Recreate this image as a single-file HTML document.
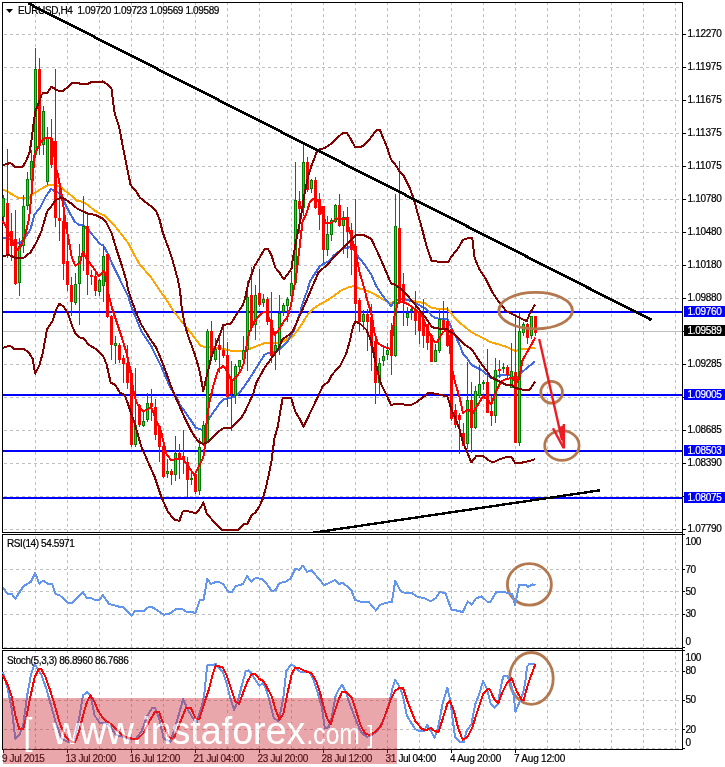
<!DOCTYPE html>
<html><head><meta charset="utf-8"><title>EURUSD,H4</title>
<style>
html,body{margin:0;padding:0;background:#fff;}
body{width:725px;height:767px;overflow:hidden;position:relative;}
svg{position:absolute;left:0;top:0;}
svg text{font-family:'Liberation Sans', Arial, sans-serif;}
</style></head><body>
<svg width="725" height="767" viewBox="0 0 725 767" shape-rendering="crispEdges">

<g stroke="#c0c0c0" stroke-width="1" stroke-dasharray="3 3" fill="none"><line x1="35.5" y1="2" x2="35.5" y2="532" /><line x1="67.5" y1="2" x2="67.5" y2="532" /><line x1="99.5" y1="2" x2="99.5" y2="532" /><line x1="131.5" y1="2" x2="131.5" y2="532" /><line x1="163.5" y1="2" x2="163.5" y2="532" /><line x1="195.5" y1="2" x2="195.5" y2="532" /><line x1="227.5" y1="2" x2="227.5" y2="532" /><line x1="259.5" y1="2" x2="259.5" y2="532" /><line x1="291.5" y1="2" x2="291.5" y2="532" /><line x1="323.5" y1="2" x2="323.5" y2="532" /><line x1="355.5" y1="2" x2="355.5" y2="532" /><line x1="387.5" y1="2" x2="387.5" y2="532" /><line x1="419.5" y1="2" x2="419.5" y2="532" /><line x1="451.5" y1="2" x2="451.5" y2="532" /><line x1="483.5" y1="2" x2="483.5" y2="532" /><line x1="515.5" y1="2" x2="515.5" y2="532" /><line x1="547.5" y1="2" x2="547.5" y2="532" /><line x1="579.5" y1="2" x2="579.5" y2="532" /><line x1="611.5" y1="2" x2="611.5" y2="532" /><line x1="643.5" y1="2" x2="643.5" y2="532" /><line x1="675.5" y1="2" x2="675.5" y2="532" /><line x1="35.5" y1="530" x2="35.5" y2="648" /><line x1="67.5" y1="530" x2="67.5" y2="648" /><line x1="99.5" y1="530" x2="99.5" y2="648" /><line x1="131.5" y1="530" x2="131.5" y2="648" /><line x1="163.5" y1="530" x2="163.5" y2="648" /><line x1="195.5" y1="530" x2="195.5" y2="648" /><line x1="227.5" y1="530" x2="227.5" y2="648" /><line x1="259.5" y1="530" x2="259.5" y2="648" /><line x1="291.5" y1="530" x2="291.5" y2="648" /><line x1="323.5" y1="530" x2="323.5" y2="648" /><line x1="355.5" y1="530" x2="355.5" y2="648" /><line x1="387.5" y1="530" x2="387.5" y2="648" /><line x1="419.5" y1="530" x2="419.5" y2="648" /><line x1="451.5" y1="530" x2="451.5" y2="648" /><line x1="483.5" y1="530" x2="483.5" y2="648" /><line x1="515.5" y1="530" x2="515.5" y2="648" /><line x1="547.5" y1="530" x2="547.5" y2="648" /><line x1="579.5" y1="530" x2="579.5" y2="648" /><line x1="611.5" y1="530" x2="611.5" y2="648" /><line x1="643.5" y1="530" x2="643.5" y2="648" /><line x1="675.5" y1="530" x2="675.5" y2="648" /><line x1="35.5" y1="650" x2="35.5" y2="749" /><line x1="67.5" y1="650" x2="67.5" y2="749" /><line x1="99.5" y1="650" x2="99.5" y2="749" /><line x1="131.5" y1="650" x2="131.5" y2="749" /><line x1="163.5" y1="650" x2="163.5" y2="749" /><line x1="195.5" y1="650" x2="195.5" y2="749" /><line x1="227.5" y1="650" x2="227.5" y2="749" /><line x1="259.5" y1="650" x2="259.5" y2="749" /><line x1="291.5" y1="650" x2="291.5" y2="749" /><line x1="323.5" y1="650" x2="323.5" y2="749" /><line x1="355.5" y1="650" x2="355.5" y2="749" /><line x1="387.5" y1="650" x2="387.5" y2="749" /><line x1="419.5" y1="650" x2="419.5" y2="749" /><line x1="451.5" y1="650" x2="451.5" y2="749" /><line x1="483.5" y1="650" x2="483.5" y2="749" /><line x1="515.5" y1="650" x2="515.5" y2="749" /><line x1="547.5" y1="650" x2="547.5" y2="749" /><line x1="579.5" y1="650" x2="579.5" y2="749" /><line x1="611.5" y1="650" x2="611.5" y2="749" /><line x1="643.5" y1="650" x2="643.5" y2="749" /><line x1="675.5" y1="650" x2="675.5" y2="749" /><line x1="4" y1="34.5" x2="682" y2="34.5" /><line x1="4" y1="67.5" x2="682" y2="67.5" /><line x1="4" y1="100.5" x2="682" y2="100.5" /><line x1="4" y1="133.5" x2="682" y2="133.5" /><line x1="4" y1="166.5" x2="682" y2="166.5" /><line x1="4" y1="199.5" x2="682" y2="199.5" /><line x1="4" y1="232.5" x2="682" y2="232.5" /><line x1="4" y1="265.5" x2="682" y2="265.5" /><line x1="4" y1="298.5" x2="682" y2="298.5" /><line x1="4" y1="331.5" x2="682" y2="331.5" /><line x1="4" y1="364.5" x2="682" y2="364.5" /><line x1="4" y1="397.5" x2="682" y2="397.5" /><line x1="4" y1="430.5" x2="682" y2="430.5" /><line x1="4" y1="463.5" x2="682" y2="463.5" /><line x1="4" y1="496.5" x2="682" y2="496.5" /><line x1="4" y1="529.5" x2="682" y2="529.5" /><line x1="4" y1="569.5" x2="682" y2="569.5" /><line x1="4" y1="591.5" x2="682" y2="591.5" /><line x1="4" y1="614.5" x2="682" y2="614.5" /><line x1="4" y1="647.5" x2="682" y2="647.5" /><line x1="4" y1="671.5" x2="682" y2="671.5" /><line x1="4" y1="700.5" x2="682" y2="700.5" /><line x1="4" y1="729.5" x2="682" y2="729.5" /><line x1="4" y1="748.5" x2="682" y2="748.5" /></g>
<g fill="none" stroke="#000" stroke-width="1">
<rect x="2.5" y="2.5" width="680" height="530" />
<rect x="2.5" y="534.5" width="680" height="114" />
<rect x="2.5" y="650.5" width="680" height="99" />
</g>
<g stroke="#0000ff" stroke-width="2">
<line x1="3" y1="311.5" x2="682" y2="311.5" />
<line x1="3" y1="394.5" x2="682" y2="394.5" />
<line x1="3" y1="450.5" x2="682" y2="450.5" />
<line x1="3" y1="497.5" x2="682" y2="497.5" />
</g>
<line x1="3" y1="331.5" x2="682" y2="331.5" stroke="#c0c0c0" stroke-width="1"/>
<g fill="none" stroke-width="2" stroke-linejoin="round" shape-rendering="crispEdges">
<polyline points="2.8,189.5 8.3,192.2 18.0,197.7 29.0,197.7 33.1,194.2 40.0,189.4 48.3,185.2 52.5,184.6 55.2,185.2 59.4,185.9 64.9,190.8 70.4,194.9 77.3,201.1 82.9,201.8 88.4,205.3 93.9,210.1 100.0,213.6 104.9,215.6 109.9,220.6 116.5,228.0 128.1,242.9 133.1,252.8 139.7,264.4 151.3,277.7 161.2,292.6 164.5,296.6 172.8,309.9 182.7,323.1 191.0,333.0 200.5,345.5 204.3,347.1 209.9,347.1 219.9,348.0 229.8,350.4 234.8,351.3 243.0,351.3 249.7,348.8 256.3,346.3 264.6,343.0 274.5,343.0 279.5,343.0 286.1,339.7 292.7,336.4 299.3,328.1 307.6,314.8 314.2,308.2 319.9,304.3 331.5,297.7 341.5,290.2 349.7,286.9 354.7,286.1 359.7,288.6 367.9,291.1 376.2,295.2 382.8,299.3 391.1,303.5 396.1,300.2 402.7,299.3 409.3,300.2 417.6,301.8 425.0,303.3 431.6,307.9 437.4,308.7 447.4,309.5 449.0,310.8 458.1,321.5 466.4,328.1 471.4,332.3 476.3,334.8 485.0,338.9 489.5,341.8 497.8,344.2 506.1,346.7 515.2,350.9 522.6,349.2 529.3,348.4 535.5,347.5" stroke="#ffa500"/>
<polyline points="2.8,238.0 11.0,239.1 15.2,242.8 20.7,242.8 24.9,238.0 30.4,229.7 34.5,214.5 40.1,207.6 45.6,196.6 51.1,189.0 55.2,191.5 59.4,193.1 63.5,200.7 69.1,211.8 74.6,221.4 78.7,224.9 82.9,224.9 88.4,229.7 93.9,236.6 100.0,244.0 103.3,245.4 108.2,254.5 113.2,266.1 118.2,276.0 123.1,286.0 128.1,295.9 131.4,307.0 134.7,314.8 141.4,331.4 151.3,346.3 161.2,366.2 169.5,386.0 177.8,399.3 179.4,404.0 187.7,415.6 196.0,428.0 202.6,430.0 204.9,427.2 208.2,419.7 211.6,414.8 215.7,409.0 219.8,403.2 224.0,399.0 231.4,397.8 234.7,396.6 239.7,392.6 248.0,381.1 256.3,367.8 264.6,354.6 269.5,352.6 272.8,352.9 279.5,349.6 287.7,341.3 294.4,329.7 299.3,314.8 304.3,298.3 307.6,290.0 310.0,281.1 319.9,266.2 328.2,261.3 334.8,254.6 343.1,248.8 349.7,247.2 353.0,248.8 358.0,256.3 364.6,264.6 371.3,274.5 376.2,286.1 382.8,296.0 391.1,306.0 394.4,301.0 399.4,299.0 404.4,299.0 411.0,301.0 417.6,304.3 425.0,308.3 428.3,310.8 431.6,315.7 434.9,317.8 439.9,319.0 447.4,319.0 449.8,324.0 453.1,331.5 456.5,338.1 459.8,345.5 463.1,353.8 468.0,359.6 471.3,364.8 481.3,369.8 491.2,378.1 499.5,375.6 507.7,374.8 511.9,375.6 515.2,381.4 521.0,373.1 527.6,367.3 535.1,361.5" stroke="#4169e1"/>
</g>
<g><rect x="3" y="195.0" width="1" height="27.0" fill="#008000"/><rect x="2" y="198.0" width="3" height="19.0" fill="#008000"/><rect x="3" y="199.0" width="1" height="17.0" fill="#32cd32"/><rect x="7" y="149.0" width="1" height="109.0" fill="#ff0000"/><rect x="6" y="203.0" width="3" height="52.0" fill="#ff0000"/><rect x="11" y="213.0" width="1" height="48.0" fill="#ff0000"/><rect x="10" y="231.0" width="3" height="15.0" fill="#ff0000"/><rect x="15" y="210.0" width="1" height="75.0" fill="#ff0000"/><rect x="14" y="239.0" width="3" height="45.0" fill="#ff0000"/><rect x="19" y="238.0" width="1" height="58.0" fill="#008000"/><rect x="18" y="246.0" width="3" height="37.0" fill="#008000"/><rect x="19" y="247.0" width="1" height="35.0" fill="#32cd32"/><rect x="23" y="195.0" width="1" height="58.0" fill="#008000"/><rect x="22" y="206.0" width="3" height="40.0" fill="#008000"/><rect x="23" y="207.0" width="1" height="38.0" fill="#32cd32"/><rect x="27" y="172.0" width="1" height="38.0" fill="#008000"/><rect x="26" y="179.0" width="3" height="27.0" fill="#008000"/><rect x="27" y="180.0" width="1" height="25.0" fill="#32cd32"/><rect x="31" y="150.0" width="1" height="37.0" fill="#008000"/><rect x="30" y="161.0" width="3" height="19.0" fill="#008000"/><rect x="31" y="162.0" width="1" height="17.0" fill="#32cd32"/><rect x="35" y="48.0" width="1" height="110.0" fill="#008000"/><rect x="34" y="69.0" width="3" height="86.0" fill="#008000"/><rect x="35" y="70.0" width="1" height="84.0" fill="#32cd32"/><rect x="39" y="58.0" width="1" height="97.0" fill="#ff0000"/><rect x="38" y="69.0" width="3" height="77.0" fill="#ff0000"/><rect x="43" y="106.0" width="1" height="49.0" fill="#008000"/><rect x="42" y="111.0" width="3" height="34.0" fill="#008000"/><rect x="43" y="112.0" width="1" height="32.0" fill="#32cd32"/><rect x="47" y="127.0" width="1" height="58.0" fill="#008000"/><rect x="46" y="137.0" width="3" height="45.0" fill="#008000"/><rect x="47" y="138.0" width="1" height="43.0" fill="#32cd32"/><rect x="51" y="119.0" width="1" height="49.0" fill="#ff0000"/><rect x="50" y="138.0" width="3" height="27.0" fill="#ff0000"/><rect x="55" y="69.0" width="1" height="158.0" fill="#ff0000"/><rect x="54" y="141.0" width="3" height="77.0" fill="#ff0000"/><rect x="59" y="181.0" width="1" height="60.0" fill="#ff0000"/><rect x="58" y="218.0" width="3" height="3.0" fill="#ff0000"/><rect x="63" y="199.0" width="1" height="81.0" fill="#ff0000"/><rect x="62" y="221.0" width="3" height="43.0" fill="#ff0000"/><rect x="67" y="222.0" width="1" height="69.0" fill="#ff0000"/><rect x="66" y="261.0" width="3" height="24.0" fill="#ff0000"/><rect x="71" y="277.0" width="1" height="39.0" fill="#ff0000"/><rect x="70" y="285.0" width="3" height="17.0" fill="#ff0000"/><rect x="75" y="273.0" width="1" height="32.0" fill="#008000"/><rect x="74" y="284.0" width="3" height="19.0" fill="#008000"/><rect x="75" y="285.0" width="1" height="17.0" fill="#32cd32"/><rect x="79" y="244.0" width="1" height="81.0" fill="#008000"/><rect x="78" y="256.0" width="3" height="28.0" fill="#008000"/><rect x="79" y="257.0" width="1" height="26.0" fill="#32cd32"/><rect x="83" y="196.0" width="1" height="75.0" fill="#008000"/><rect x="82" y="226.0" width="3" height="29.0" fill="#008000"/><rect x="83" y="227.0" width="1" height="27.0" fill="#32cd32"/><rect x="87" y="214.0" width="1" height="81.0" fill="#ff0000"/><rect x="86" y="226.0" width="3" height="49.0" fill="#ff0000"/><rect x="91" y="270.0" width="1" height="15.0" fill="#ff0000"/><rect x="90" y="275.0" width="3" height="2.0" fill="#ff0000"/><rect x="95" y="270.0" width="1" height="26.0" fill="#ff0000"/><rect x="94" y="276.0" width="3" height="15.0" fill="#ff0000"/><rect x="99" y="279.0" width="1" height="17.0" fill="#008000"/><rect x="98" y="280.0" width="3" height="12.0" fill="#008000"/><rect x="99" y="281.0" width="1" height="10.0" fill="#32cd32"/><rect x="103" y="246.0" width="1" height="56.0" fill="#008000"/><rect x="102" y="256.0" width="3" height="30.0" fill="#008000"/><rect x="103" y="257.0" width="1" height="28.0" fill="#32cd32"/><rect x="107" y="254.0" width="1" height="64.0" fill="#ff0000"/><rect x="106" y="254.0" width="3" height="63.0" fill="#ff0000"/><rect x="111" y="315.0" width="1" height="45.0" fill="#ff0000"/><rect x="110" y="316.0" width="3" height="29.0" fill="#ff0000"/><rect x="115" y="336.0" width="1" height="28.0" fill="#008000"/><rect x="114" y="343.0" width="3" height="3.0" fill="#008000"/><rect x="115" y="344.0" width="1" height="1.0" fill="#32cd32"/><rect x="119" y="343.0" width="1" height="20.0" fill="#ff0000"/><rect x="118" y="345.0" width="3" height="15.0" fill="#ff0000"/><rect x="123" y="355.0" width="1" height="28.0" fill="#ff0000"/><rect x="122" y="358.0" width="3" height="6.0" fill="#ff0000"/><rect x="127" y="345.0" width="1" height="44.0" fill="#ff0000"/><rect x="126" y="363.0" width="3" height="20.0" fill="#ff0000"/><rect x="131" y="370.0" width="1" height="77.0" fill="#ff0000"/><rect x="130" y="373.0" width="3" height="72.0" fill="#ff0000"/><rect x="135" y="368.0" width="1" height="79.0" fill="#008000"/><rect x="134" y="425.0" width="3" height="20.0" fill="#008000"/><rect x="135" y="426.0" width="1" height="18.0" fill="#32cd32"/><rect x="139" y="404.0" width="1" height="23.0" fill="#ff0000"/><rect x="138" y="405.0" width="3" height="20.0" fill="#ff0000"/><rect x="143" y="412.0" width="1" height="15.0" fill="#008000"/><rect x="142" y="421.0" width="3" height="5.0" fill="#008000"/><rect x="143" y="422.0" width="1" height="3.0" fill="#32cd32"/><rect x="147" y="393.0" width="1" height="29.0" fill="#008000"/><rect x="146" y="403.0" width="3" height="17.0" fill="#008000"/><rect x="147" y="404.0" width="1" height="15.0" fill="#32cd32"/><rect x="151" y="389.0" width="1" height="32.0" fill="#ff0000"/><rect x="150" y="403.0" width="3" height="4.0" fill="#ff0000"/><rect x="155" y="399.0" width="1" height="41.0" fill="#ff0000"/><rect x="154" y="407.0" width="3" height="28.0" fill="#ff0000"/><rect x="159" y="425.0" width="1" height="37.0" fill="#ff0000"/><rect x="158" y="426.0" width="3" height="21.0" fill="#ff0000"/><rect x="163" y="445.0" width="1" height="33.0" fill="#ff0000"/><rect x="162" y="446.0" width="3" height="31.0" fill="#ff0000"/><rect x="167" y="459.0" width="1" height="19.0" fill="#008000"/><rect x="166" y="471.0" width="3" height="3.0" fill="#008000"/><rect x="167" y="472.0" width="1" height="1.0" fill="#32cd32"/><rect x="171" y="469.0" width="1" height="16.0" fill="#ff0000"/><rect x="170" y="471.0" width="3" height="4.0" fill="#ff0000"/><rect x="175" y="436.0" width="1" height="45.0" fill="#008000"/><rect x="174" y="453.0" width="3" height="22.0" fill="#008000"/><rect x="175" y="454.0" width="1" height="20.0" fill="#32cd32"/><rect x="179" y="444.0" width="1" height="35.0" fill="#ff0000"/><rect x="178" y="453.0" width="3" height="5.0" fill="#ff0000"/><rect x="183" y="430.0" width="1" height="44.0" fill="#ff0000"/><rect x="182" y="456.0" width="3" height="4.0" fill="#ff0000"/><rect x="187" y="457.0" width="1" height="40.0" fill="#ff0000"/><rect x="186" y="462.0" width="3" height="18.0" fill="#ff0000"/><rect x="191" y="473.0" width="1" height="12.0" fill="#008000"/><rect x="190" y="478.0" width="3" height="2.0" fill="#008000"/><rect x="195" y="473.0" width="1" height="21.0" fill="#ff0000"/><rect x="194" y="474.0" width="3" height="18.0" fill="#ff0000"/><rect x="199" y="438.0" width="1" height="57.0" fill="#008000"/><rect x="198" y="447.0" width="3" height="44.0" fill="#008000"/><rect x="199" y="448.0" width="1" height="42.0" fill="#32cd32"/><rect x="203" y="421.0" width="1" height="25.0" fill="#008000"/><rect x="202" y="425.0" width="3" height="20.0" fill="#008000"/><rect x="203" y="426.0" width="1" height="18.0" fill="#32cd32"/><rect x="207" y="329.0" width="1" height="114.0" fill="#008000"/><rect x="206" y="331.0" width="3" height="111.0" fill="#008000"/><rect x="207" y="332.0" width="1" height="109.0" fill="#32cd32"/><rect x="211" y="321.0" width="1" height="39.0" fill="#ff0000"/><rect x="210" y="331.0" width="3" height="25.0" fill="#ff0000"/><rect x="215" y="338.0" width="1" height="24.0" fill="#008000"/><rect x="214" y="349.0" width="3" height="11.0" fill="#008000"/><rect x="215" y="350.0" width="1" height="9.0" fill="#32cd32"/><rect x="219" y="336.0" width="1" height="37.0" fill="#ff0000"/><rect x="218" y="345.0" width="3" height="5.0" fill="#ff0000"/><rect x="223" y="325.0" width="1" height="33.0" fill="#ff0000"/><rect x="222" y="350.0" width="3" height="6.0" fill="#ff0000"/><rect x="227" y="342.0" width="1" height="65.0" fill="#ff0000"/><rect x="226" y="355.0" width="3" height="42.0" fill="#ff0000"/><rect x="231" y="361.0" width="1" height="70.0" fill="#ff0000"/><rect x="230" y="379.0" width="3" height="15.0" fill="#ff0000"/><rect x="235" y="364.0" width="1" height="40.0" fill="#008000"/><rect x="234" y="366.0" width="3" height="30.0" fill="#008000"/><rect x="235" y="367.0" width="1" height="28.0" fill="#32cd32"/><rect x="239" y="360.0" width="1" height="13.0" fill="#008000"/><rect x="238" y="360.0" width="3" height="7.0" fill="#008000"/><rect x="239" y="361.0" width="1" height="5.0" fill="#32cd32"/><rect x="243" y="336.0" width="1" height="27.0" fill="#008000"/><rect x="242" y="350.0" width="3" height="10.0" fill="#008000"/><rect x="243" y="351.0" width="1" height="8.0" fill="#32cd32"/><rect x="247" y="281.0" width="1" height="90.0" fill="#008000"/><rect x="246" y="297.0" width="3" height="53.0" fill="#008000"/><rect x="247" y="298.0" width="1" height="51.0" fill="#32cd32"/><rect x="251" y="267.0" width="1" height="64.0" fill="#ff0000"/><rect x="250" y="295.0" width="3" height="33.0" fill="#ff0000"/><rect x="255" y="285.0" width="1" height="55.0" fill="#008000"/><rect x="254" y="295.0" width="3" height="30.0" fill="#008000"/><rect x="255" y="296.0" width="1" height="28.0" fill="#32cd32"/><rect x="259" y="268.5" width="1" height="38.5" fill="#ff0000"/><rect x="258" y="293.0" width="3" height="12.0" fill="#ff0000"/><rect x="263" y="294.0" width="1" height="13.0" fill="#008000"/><rect x="262" y="299.0" width="3" height="4.0" fill="#008000"/><rect x="263" y="300.0" width="1" height="2.0" fill="#32cd32"/><rect x="267" y="297.0" width="1" height="28.0" fill="#ff0000"/><rect x="266" y="299.0" width="3" height="23.0" fill="#ff0000"/><rect x="271" y="292.0" width="1" height="71.0" fill="#ff0000"/><rect x="270" y="320.0" width="3" height="36.0" fill="#ff0000"/><rect x="275" y="331.0" width="1" height="39.0" fill="#008000"/><rect x="274" y="345.0" width="3" height="8.0" fill="#008000"/><rect x="275" y="346.0" width="1" height="6.0" fill="#32cd32"/><rect x="279" y="295.0" width="1" height="60.0" fill="#008000"/><rect x="278" y="313.0" width="3" height="35.0" fill="#008000"/><rect x="279" y="314.0" width="1" height="33.0" fill="#32cd32"/><rect x="283" y="303.0" width="1" height="13.0" fill="#008000"/><rect x="282" y="305.0" width="3" height="7.0" fill="#008000"/><rect x="283" y="306.0" width="1" height="5.0" fill="#32cd32"/><rect x="287" y="297.0" width="1" height="25.0" fill="#008000"/><rect x="286" y="299.0" width="3" height="7.0" fill="#008000"/><rect x="287" y="300.0" width="1" height="5.0" fill="#32cd32"/><rect x="291" y="271.0" width="1" height="29.0" fill="#008000"/><rect x="290" y="283.0" width="3" height="13.0" fill="#008000"/><rect x="291" y="284.0" width="1" height="11.0" fill="#32cd32"/><rect x="295" y="162.0" width="1" height="122.0" fill="#008000"/><rect x="294" y="200.0" width="3" height="83.0" fill="#008000"/><rect x="295" y="201.0" width="1" height="81.0" fill="#32cd32"/><rect x="299" y="191.0" width="1" height="42.0" fill="#ff0000"/><rect x="298" y="201.0" width="3" height="8.0" fill="#ff0000"/><rect x="303" y="144.0" width="1" height="72.0" fill="#008000"/><rect x="302" y="162.0" width="3" height="46.0" fill="#008000"/><rect x="303" y="163.0" width="1" height="44.0" fill="#32cd32"/><rect x="307" y="157.0" width="1" height="35.0" fill="#ff0000"/><rect x="306" y="162.0" width="3" height="28.0" fill="#ff0000"/><rect x="311" y="179.0" width="1" height="14.0" fill="#008000"/><rect x="310" y="180.0" width="3" height="9.0" fill="#008000"/><rect x="311" y="181.0" width="1" height="7.0" fill="#32cd32"/><rect x="315" y="177.0" width="1" height="32.0" fill="#ff0000"/><rect x="314" y="180.0" width="3" height="28.0" fill="#ff0000"/><rect x="319" y="193.0" width="1" height="37.0" fill="#ff0000"/><rect x="318" y="199.0" width="3" height="16.0" fill="#ff0000"/><rect x="323" y="206.0" width="1" height="57.0" fill="#ff0000"/><rect x="322" y="206.0" width="3" height="44.0" fill="#ff0000"/><rect x="327" y="216.0" width="1" height="40.0" fill="#008000"/><rect x="326" y="234.0" width="3" height="16.0" fill="#008000"/><rect x="327" y="235.0" width="1" height="14.0" fill="#32cd32"/><rect x="331" y="218.0" width="1" height="23.0" fill="#008000"/><rect x="330" y="220.0" width="3" height="15.0" fill="#008000"/><rect x="331" y="221.0" width="1" height="13.0" fill="#32cd32"/><rect x="335" y="204.0" width="1" height="19.0" fill="#008000"/><rect x="334" y="205.0" width="3" height="17.0" fill="#008000"/><rect x="335" y="206.0" width="1" height="15.0" fill="#32cd32"/><rect x="339" y="194.0" width="1" height="33.0" fill="#ff0000"/><rect x="338" y="205.0" width="3" height="21.0" fill="#ff0000"/><rect x="343" y="211.0" width="1" height="43.0" fill="#008000"/><rect x="342" y="217.0" width="3" height="9.0" fill="#008000"/><rect x="343" y="218.0" width="1" height="7.0" fill="#32cd32"/><rect x="347" y="207.0" width="1" height="51.0" fill="#ff0000"/><rect x="346" y="217.0" width="3" height="15.0" fill="#ff0000"/><rect x="351" y="223.0" width="1" height="52.0" fill="#ff0000"/><rect x="350" y="230.0" width="3" height="20.0" fill="#ff0000"/><rect x="355" y="199.0" width="1" height="122.0" fill="#ff0000"/><rect x="354" y="246.0" width="3" height="58.0" fill="#ff0000"/><rect x="359" y="298.0" width="1" height="34.0" fill="#ff0000"/><rect x="358" y="300.0" width="3" height="22.0" fill="#ff0000"/><rect x="363" y="310.0" width="1" height="20.0" fill="#008000"/><rect x="362" y="314.0" width="3" height="8.0" fill="#008000"/><rect x="363" y="315.0" width="1" height="6.0" fill="#32cd32"/><rect x="367" y="309.0" width="1" height="42.0" fill="#ff0000"/><rect x="366" y="314.0" width="3" height="8.0" fill="#ff0000"/><rect x="371" y="304.0" width="1" height="67.0" fill="#ff0000"/><rect x="370" y="317.0" width="3" height="29.0" fill="#ff0000"/><rect x="375" y="338.0" width="1" height="66.0" fill="#ff0000"/><rect x="374" y="341.0" width="3" height="42.0" fill="#ff0000"/><rect x="379" y="358.0" width="1" height="38.0" fill="#008000"/><rect x="378" y="363.0" width="3" height="20.0" fill="#008000"/><rect x="379" y="364.0" width="1" height="18.0" fill="#32cd32"/><rect x="383" y="345.0" width="1" height="21.0" fill="#008000"/><rect x="382" y="356.0" width="3" height="5.0" fill="#008000"/><rect x="383" y="357.0" width="1" height="3.0" fill="#32cd32"/><rect x="387" y="343.0" width="1" height="17.0" fill="#008000"/><rect x="386" y="350.0" width="3" height="5.0" fill="#008000"/><rect x="387" y="351.0" width="1" height="3.0" fill="#32cd32"/><rect x="391" y="323.0" width="1" height="52.0" fill="#ff0000"/><rect x="390" y="330.0" width="3" height="26.0" fill="#ff0000"/><rect x="395" y="194.0" width="1" height="163.0" fill="#008000"/><rect x="394" y="226.0" width="3" height="130.0" fill="#008000"/><rect x="395" y="227.0" width="1" height="128.0" fill="#32cd32"/><rect x="399" y="161.0" width="1" height="142.0" fill="#ff0000"/><rect x="398" y="228.0" width="3" height="74.0" fill="#ff0000"/><rect x="403" y="273.0" width="1" height="53.0" fill="#ff0000"/><rect x="402" y="284.0" width="3" height="19.0" fill="#ff0000"/><rect x="407" y="307.0" width="1" height="19.0" fill="#008000"/><rect x="406" y="313.0" width="3" height="5.0" fill="#008000"/><rect x="407" y="314.0" width="1" height="3.0" fill="#32cd32"/><rect x="411" y="307.0" width="1" height="13.0" fill="#008000"/><rect x="410" y="309.0" width="3" height="2.0" fill="#008000"/><rect x="415" y="291.0" width="1" height="44.0" fill="#ff0000"/><rect x="414" y="309.0" width="3" height="12.0" fill="#ff0000"/><rect x="419" y="311.0" width="1" height="33.0" fill="#ff0000"/><rect x="418" y="313.0" width="3" height="18.0" fill="#ff0000"/><rect x="423" y="299.0" width="1" height="49.0" fill="#ff0000"/><rect x="422" y="320.0" width="3" height="16.0" fill="#ff0000"/><rect x="427" y="324.0" width="1" height="26.0" fill="#ff0000"/><rect x="426" y="324.0" width="3" height="19.0" fill="#ff0000"/><rect x="431" y="334.0" width="1" height="28.0" fill="#ff0000"/><rect x="430" y="335.0" width="3" height="27.0" fill="#ff0000"/><rect x="435" y="344.0" width="1" height="18.0" fill="#008000"/><rect x="434" y="350.0" width="3" height="12.0" fill="#008000"/><rect x="435" y="351.0" width="1" height="10.0" fill="#32cd32"/><rect x="439" y="310.0" width="1" height="43.0" fill="#008000"/><rect x="438" y="319.0" width="3" height="32.0" fill="#008000"/><rect x="439" y="320.0" width="1" height="30.0" fill="#32cd32"/><rect x="443" y="301.0" width="1" height="29.0" fill="#ff0000"/><rect x="442" y="320.0" width="3" height="9.0" fill="#ff0000"/><rect x="447" y="307.0" width="1" height="40.0" fill="#ff0000"/><rect x="446" y="321.0" width="3" height="25.0" fill="#ff0000"/><rect x="451" y="329.0" width="1" height="92.0" fill="#ff0000"/><rect x="450" y="329.0" width="3" height="90.0" fill="#ff0000"/><rect x="455" y="404.0" width="1" height="24.0" fill="#ff0000"/><rect x="454" y="410.0" width="3" height="15.0" fill="#ff0000"/><rect x="459" y="413.0" width="1" height="41.0" fill="#ff0000"/><rect x="458" y="415.0" width="3" height="5.0" fill="#ff0000"/><rect x="463" y="423.0" width="1" height="23.0" fill="#ff0000"/><rect x="462" y="433.0" width="3" height="13.0" fill="#ff0000"/><rect x="467" y="362.0" width="1" height="87.0" fill="#008000"/><rect x="466" y="400.0" width="3" height="44.0" fill="#008000"/><rect x="467" y="401.0" width="1" height="42.0" fill="#32cd32"/><rect x="471" y="382.0" width="1" height="71.0" fill="#ff0000"/><rect x="470" y="400.0" width="3" height="28.0" fill="#ff0000"/><rect x="475" y="386.0" width="1" height="43.0" fill="#008000"/><rect x="474" y="391.0" width="3" height="37.0" fill="#008000"/><rect x="475" y="392.0" width="1" height="35.0" fill="#32cd32"/><rect x="479" y="365.0" width="1" height="33.0" fill="#008000"/><rect x="478" y="384.0" width="3" height="12.0" fill="#008000"/><rect x="479" y="385.0" width="1" height="10.0" fill="#32cd32"/><rect x="483" y="380.0" width="1" height="10.0" fill="#008000"/><rect x="482" y="382.0" width="3" height="2.0" fill="#008000"/><rect x="487" y="349.0" width="1" height="64.0" fill="#ff0000"/><rect x="486" y="382.0" width="3" height="31.0" fill="#ff0000"/><rect x="491" y="396.0" width="1" height="30.0" fill="#ff0000"/><rect x="490" y="411.0" width="3" height="5.0" fill="#ff0000"/><rect x="495" y="358.0" width="1" height="65.0" fill="#008000"/><rect x="494" y="370.0" width="3" height="46.0" fill="#008000"/><rect x="495" y="371.0" width="1" height="44.0" fill="#32cd32"/><rect x="499" y="360.0" width="1" height="18.0" fill="#ff0000"/><rect x="498" y="369.0" width="3" height="2.0" fill="#ff0000"/><rect x="503" y="363.0" width="1" height="10.0" fill="#008000"/><rect x="502" y="367.0" width="3" height="2.0" fill="#008000"/><rect x="507" y="365.0" width="1" height="13.0" fill="#ff0000"/><rect x="506" y="367.0" width="3" height="8.0" fill="#ff0000"/><rect x="511" y="343.0" width="1" height="45.0" fill="#008000"/><rect x="510" y="371.0" width="3" height="17.0" fill="#008000"/><rect x="511" y="372.0" width="1" height="15.0" fill="#32cd32"/><rect x="515" y="314.0" width="1" height="129.0" fill="#ff0000"/><rect x="514" y="372.0" width="3" height="71.0" fill="#ff0000"/><rect x="519" y="313.0" width="1" height="133.0" fill="#008000"/><rect x="518" y="331.0" width="3" height="112.0" fill="#008000"/><rect x="519" y="332.0" width="1" height="110.0" fill="#32cd32"/><rect x="523" y="322.0" width="1" height="14.0" fill="#008000"/><rect x="522" y="324.0" width="3" height="9.0" fill="#008000"/><rect x="523" y="325.0" width="1" height="7.0" fill="#32cd32"/><rect x="527" y="323.0" width="1" height="21.0" fill="#ff0000"/><rect x="526" y="324.0" width="3" height="14.0" fill="#ff0000"/><rect x="531" y="316.0" width="1" height="23.0" fill="#008000"/><rect x="530" y="316.0" width="3" height="20.0" fill="#008000"/><rect x="531" y="317.0" width="1" height="18.0" fill="#32cd32"/><rect x="535" y="316.0" width="1" height="20.0" fill="#ff0000"/><rect x="534" y="316.0" width="3" height="17.0" fill="#ff0000"/></g>
<g fill="none" stroke-width="2" stroke-linejoin="round" shape-rendering="crispEdges">
<polyline points="2.8,221.3 6.2,227.0 11.0,238.0 13.8,244.9 18.0,249.8 20.7,246.3 24.9,236.6 29.0,218.7 31.5,194.0 34.5,155.0 39.0,145.0 43.5,139.0 45.6,137.6 51.1,138.3 53.2,142.4 55.2,164.5 58.0,175.6 60.8,190.0 63.5,207.0 66.3,228.3 69.1,242.2 71.8,257.3 75.3,265.6 80.1,262.9 82.9,251.8 85.6,257.3 89.8,262.9 93.9,268.4 98.1,275.3 99.0,276.0 103.3,271.0 105.0,272.7 108.2,292.6 111.6,306.6 116.5,321.5 121.5,336.4 126.5,352.9 129.8,367.8 133.1,389.3 136.4,402.6 143.0,411.5 151.3,407.3 156.3,420.6 161.2,432.1 166.2,453.7 171.2,460.3 177.8,458.6 182.7,458.6 187.7,465.3 194.3,475.2 199.3,465.3 203.4,457.0 205.1,445.4 206.2,426.4 208.2,409.8 209.9,399.9 212.4,389.9 213.2,386.0 218.2,369.5 223.2,366.2 227.3,371.1 231.5,381.1 235.6,377.7 240.6,371.1 243.9,362.8 247.2,341.3 249.7,331.4 254.6,321.5 261.3,313.2 266.2,311.5 271.2,323.1 274.5,334.7 277.8,331.4 282.8,323.1 287.7,316.5 291.1,304.9 293.5,290.0 296.0,277.6 299.3,249.5 302.6,221.3 306.0,214.7 309.7,202.6 313.0,198.5 316.3,199.3 319.6,202.6 322.9,215.9 326.2,223.3 331.2,223.3 336.2,218.4 341.1,219.2 346.1,218.4 349.7,231.5 354.7,248.0 359.7,272.8 364.6,289.4 367.1,300.0 371.3,313.2 374.6,333.1 377.9,343.0 382.8,346.4 387.8,348.0 391.1,349.7 394.4,316.6 397.7,303.3 402.7,301.7 409.3,305.0 416.0,309.9 422.6,316.6 425.0,324.0 427.5,329.0 430.0,334.8 434.9,342.0 437.4,341.8 440.0,337.0 443.0,332.0 446.9,329.8 448.0,331.0 449.8,345.0 451.5,366.5 454.8,381.4 459.7,397.9 463.0,412.8 468.0,409.5 473.0,412.8 477.9,404.6 482.9,396.3 487.9,399.6 491.2,404.6 496.2,391.3 501.1,381.4 506.1,378.9 512.7,378.1 516.0,383.0 519.3,378.1 522.6,359.9 529.3,348.3 535.2,337.6" stroke="#ff0000"/>
<polyline points="2.8,165.2 10.4,162.9 14.5,166.6 22.8,166.6 26.2,161.0 29.7,152.0 31.8,138.0 33.8,121.5 35.6,110.4 38.0,105.0 41.4,95.2 43.5,92.8 47.7,92.5 51.1,87.0 53.2,87.7 56.6,90.4 62.8,90.8 66.3,88.3 71.8,83.1 78.7,83.1 80.1,84.2 87.0,84.2 92.5,81.7 102.5,81.5 108.2,84.8 111.6,89.0 113.2,103.0 114.9,114.6 119.0,126.2 121.5,139.5 124.8,156.0 128.1,172.6 130.6,185.0 136.4,191.6 139.7,197.4 144.7,201.5 151.3,206.5 156.3,211.5 159.6,219.7 162.9,233.0 167.8,246.2 172.8,261.1 177.8,279.3 180.3,292.6 181.1,303.2 184.4,323.1 187.7,334.7 194.3,352.9 199.3,369.5 203.3,391.0 207.5,372.8 211.6,356.2 216.6,343.0 219.9,334.7 223.2,324.8 230.6,323.9 236.4,314.8 243.0,304.9 245.5,296.6 248.0,284.2 254.6,266.0 259.6,257.7 264.6,249.1 267.9,249.1 271.2,254.4 275.3,267.7 279.5,272.6 283.6,279.3 287.7,274.3 291.9,267.7 292.7,259.4 295.2,246.2 297.7,232.9 301.0,216.4 304.3,194.8 307.6,178.3 311.3,166.2 316.3,153.0 319.6,149.3 324.6,148.0 331.2,143.9 337.8,137.3 342.8,133.1 346.9,133.1 351.1,139.7 355.2,147.2 362.6,146.4 369.3,139.5 376.6,129.9 379.9,129.9 383.2,138.2 387.4,148.1 390.7,158.9 396.5,166.4 399.8,172.2 403.9,176.3 409.7,187.9 413.9,199.5 418.0,214.4 422.2,229.3 426.6,246.6 431.6,260.6 436.6,261.5 443.2,261.8 448.1,262.3 451.5,256.5 458.1,248.2 463.0,239.9 469.7,237.5 472.2,237.5 474.6,258.1 479.6,269.7 486.2,279.7 492.8,292.9 499.5,302.8 506.1,311.1 514.4,315.3 521.0,318.6 526.8,321.1 530.1,312.8 535.1,304.5" stroke="#800000"/>
<polyline points="2.8,255.7 9.7,255.3 15.2,257.8 23.5,257.8 30.4,252.5 35.9,243.5 41.4,231.1 47.0,211.8 52.5,204.6 55.2,200.7 60.8,197.3 64.9,199.1 71.8,203.9 77.3,208.7 82.9,211.5 88.4,213.6 95.0,214.8 103.3,218.9 106.6,223.0 111.6,233.0 116.5,249.5 121.5,264.4 126.5,281.0 128.1,290.0 131.4,299.9 136.4,313.2 141.4,324.8 149.6,338.0 156.3,347.9 161.2,359.5 166.2,372.8 172.8,391.0 178.6,404.0 184.4,417.2 191.0,430.5 195.0,437.1 198.3,441.3 202.6,444.0 208.2,442.1 214.0,436.3 219.8,430.5 224.8,427.6 231.4,427.6 234.7,424.7 240.5,418.9 244.7,412.3 248.8,403.2 252.9,394.9 256.3,382.7 264.6,367.8 272.8,356.2 277.8,349.6 282.8,338.8 289.4,334.7 292.7,331.4 299.3,316.5 306.0,301.6 310.5,291.0 318.3,272.8 328.2,263.7 334.8,256.3 343.1,248.0 351.4,239.7 356.4,234.8 363.0,234.8 371.3,238.9 377.9,253.0 384.5,267.9 391.1,283.6 394.4,284.4 399.4,287.7 409.3,297.7 417.6,307.6 424.2,315.9 428.3,321.5 431.6,326.5 434.9,328.1 439.9,328.6 447.4,329.0 449.8,331.5 454.8,334.8 459.8,339.7 464.7,344.7 469.7,348.0 473.0,351.3 476.3,356.3 480.0,362.1 484.6,368.1 491.2,377.3 497.8,380.6 506.1,384.7 511.9,384.7 515.2,388.0 522.6,389.7 529.3,390.5 535.1,381.4" stroke="#800000"/>
<polyline points="2.8,348.0 9.7,345.7 14.5,349.0 24.2,349.0 29.0,352.9 32.5,358.4 35.2,373.6 39.4,365.3 42.8,352.9 47.0,329.4 52.5,321.1 55.9,310.0 59.4,303.8 63.5,306.6 67.7,312.8 71.8,325.2 75.3,333.5 80.1,337.7 83.6,338.0 88.4,344.6 95.3,348.7 103.3,356.2 106.6,364.5 110.7,382.7 114.9,384.4 119.8,392.6 124.8,395.1 128.1,404.2 134.7,423.9 141.4,447.0 148.0,461.9 154.6,476.8 161.2,496.7 167.8,511.6 174.5,519.9 179.4,520.7 182.7,511.6 185.2,510.8 189.4,511.6 196.0,513.3 200.1,508.3 203.4,502.5 206.7,513.4 211.6,519.2 221.6,530.0 238.1,530.0 243.9,523.9 247.2,523.9 251.4,515.6 255.5,512.3 259.6,506.0 262.9,498.5 266.3,486.1 271.2,463.0 274.5,438.1 277.8,426.5 280.5,410.0 282.8,397.6 291.1,397.6 295.2,411.6 299.4,418.2 303.5,426.5 307.6,418.2 313.0,407.0 316.6,399.3 323.2,385.3 328.2,382.0 331.5,375.3 339.8,366.2 346.4,353.0 349.7,341.4 353.0,326.5 355.5,321.5 361.3,324.8 366.3,329.8 371.3,341.4 374.6,357.9 377.9,372.8 381.2,384.4 386.2,394.4 391.1,405.1 396.1,403.5 401.1,403.5 406.0,405.1 411.0,405.1 416.0,402.6 422.6,397.7 427.5,393.5 433.2,393.3 447.3,396.3 451.5,409.5 456.4,421.1 459.7,429.4 463.0,442.6 468.0,454.2 471.3,462.5 476.3,455.9 482.9,455.9 489.5,460.9 492.8,462.5 499.5,459.2 507.7,456.7 511.9,457.5 515.2,463.3 522.6,462.5 529.3,460.9 535.1,459.2" stroke="#800000"/>
</g>
<defs><clipPath id="mainclip"><rect x="3" y="3" width="679" height="529"/></clipPath></defs>
<g stroke="#000" stroke-width="2.7" shape-rendering="crispEdges" clip-path="url(#mainclip)">
<line x1="28" y1="3.2" x2="651.5" y2="320" />
<line x1="312" y1="532.9" x2="600" y2="490.3" stroke-width="2.4"/>
</g>
<g fill="none" stroke="#b4784f" stroke-width="2.8" shape-rendering="auto">
<ellipse cx="535.6" cy="310.6" rx="36.8" ry="18.2"/>
<ellipse cx="551.6" cy="392.3" rx="10.8" ry="10.9"/>
<ellipse cx="561.9" cy="445.5" rx="17.2" ry="14.8"/>
<ellipse cx="529.4" cy="584.4" rx="22" ry="20.8"/>
<ellipse cx="531.4" cy="678.4" rx="21.8" ry="25.9"/>
</g>
<g shape-rendering="auto" stroke="#ed1c24" fill="#ed1c24" stroke-width="2.4" stroke-linecap="butt"><line x1="539.2" y1="339" x2="562" y2="440"/><line x1="553" y1="428.3" x2="563.6" y2="448"/><line x1="563.9" y1="424" x2="563.9" y2="448.5"/><polygon points="559.5,427 564,425 563.6,448" stroke="none"/></g>
<g fill="none" stroke-width="2" stroke-linejoin="round" shape-rendering="crispEdges">
<polyline points="3.0,587.3 7.4,593.5 11.2,593.5 15.4,598.5 23.6,586.1 31.0,581.8 35.2,572.9 39.2,583.6 43.4,580.6 48.4,584.1 52.1,584.1 55.8,594.2 59.6,595.2 68.2,602.7 72.0,602.7 83.1,592.3 86.8,597.7 91.8,598.5 94.3,599.7 99.3,599.7 103.0,595.2 109.2,604.2 114.1,605.2 119.1,606.7 124.1,607.6 131.5,615.8 135.2,610.9 143.9,610.9 148.9,606.7 151.4,606.7 156.3,609.6 163.8,614.6 168.7,614.1 171.2,612.6 176.2,608.9 182.5,609.1 186.2,611.6 191.2,611.6 195.4,613.3 199.9,599.7 203.6,599.7 207.3,578.6 211.0,584.1 216.0,581.8 219.7,582.3 223.4,584.1 228.4,591.8 232.1,591.8 235.8,586.1 240.8,584.8 243.3,583.6 247.0,576.1 251.2,581.8 255.7,577.9 261.9,579.1 265.6,582.3 271.8,591.0 275.5,590.3 279.3,583.1 285.5,581.8 290.4,578.6 295.4,568.7 299.1,569.9 302.8,565.5 307.0,571.7 311.5,570.4 316.5,576.1 320.2,579.9 323.9,585.3 328.9,583.1 335.1,579.9 338.8,584.1 342.5,582.8 346.3,585.6 351.2,589.8 354.9,599.7 360.0,601.5 368.7,601.9 375.9,610.6 380.3,604.8 386.1,602.8 391.9,601.9 395.3,580.5 400.6,591.2 406.3,593.2 412.1,593.2 417.9,597.0 423.7,597.9 431.0,601.3 435.9,597.9 439.7,592.1 445.5,593.2 451.3,609.5 457.0,610.6 462.8,612.1 467.8,601.3 471.5,604.8 475.9,598.5 481.7,596.4 487.5,601.9 490.4,601.9 496.2,592.1 504.8,592.1 512.1,594.1 515.0,604.8 519.3,584.5 525.1,584.5 528.0,586.9 532.4,584.5 535.3,585.4" stroke="#6495ed"/>
<polyline points="2.9,672.2 7.7,688.6 11.6,707.9 15.4,738.8 19.3,734.9 23.2,725.3 27.0,696.3 30.9,675.1 34.7,663.5 37.6,669.3 41.5,675.1 46.3,688.6 51.2,706.0 56.0,723.4 61.8,738.8 67.6,741.7 74.3,742.3 79.2,717.6 83.0,695.4 86.9,692.1 90.7,696.3 94.6,715.6 100.4,723.4 106.2,723.0 111.0,727.2 115.8,734.9 123.6,736.9 129.3,738.8 135.8,738.8 141.6,731.1 147.4,715.6 152.2,707.9 155.1,707.9 159.0,717.6 163.8,738.8 170.5,741.7 176.3,723.4 183.1,699.2 187.9,709.8 193.7,719.5 196.6,722.4 201.4,707.9 204.3,694.4 207.2,665.4 213.0,665.4 215.9,663.9 218.8,668.3 222.7,671.2 226.5,682.8 230.4,698.3 234.2,709.8 238.1,700.2 242.0,684.7 245.8,671.2 248.7,670.3 253.6,677.0 259.3,685.7 263.2,682.8 265.0,686.7 268.9,698.3 273.7,717.6 278.5,721.4 283.3,698.3 286.2,671.2 291.1,664.5 294.9,666.4 298.8,671.2 303.6,672.2 309.4,672.2 313.3,679.0 317.1,690.5 322.0,707.9 324.8,728.2 328.7,727.2 331.6,717.6 335.5,696.3 339.3,688.6 342.2,684.7 346.1,692.5 349.9,704.1 355.7,719.5 361.5,733.0 367.3,736.9 372.1,734.9 377.0,731.1 382.8,721.4 388.6,706.0 392.4,688.6 395.3,679.9 400.0,687.6 402.9,696.3 406.8,715.6 411.6,723.4 415.4,729.2 419.3,731.1 424.1,731.1 427.0,724.9 430.9,731.1 434.7,737.8 438.6,725.3 442.5,704.1 447.3,687.6 450.2,700.2 455.0,736.9 459.8,742.3 463.7,742.3 466.6,731.1 471.4,724.3 475.3,704.1 479.2,694.4 483.0,680.9 486.9,688.6 490.7,704.1 494.6,707.9 497.7,704.0 501.0,686.4 503.2,676.4 507.1,675.9 510.4,681.9 513.7,695.2 515.4,711.7 518.7,704.0 523.1,693.0 525.3,681.9 527.0,666.5 529.7,663.7 535.3,663.7" stroke="#6495ed"/>
</g>
<rect x="683" y="0" width="42" height="767" fill="#fff"/>
<rect x="0" y="0" width="725" height="2" fill="#fff"/>
<line x1="682.5" y1="2" x2="682.5" y2="750" stroke="#000"/>
<g stroke="#000" stroke-width="1"><line x1="683" y1="34.5" x2="686" y2="34.5" /><line x1="683" y1="67.5" x2="686" y2="67.5" /><line x1="683" y1="100.5" x2="686" y2="100.5" /><line x1="683" y1="133.5" x2="686" y2="133.5" /><line x1="683" y1="166.5" x2="686" y2="166.5" /><line x1="683" y1="199.5" x2="686" y2="199.5" /><line x1="683" y1="232.5" x2="686" y2="232.5" /><line x1="683" y1="265.5" x2="686" y2="265.5" /><line x1="683" y1="298.5" x2="686" y2="298.5" /><line x1="683" y1="331.5" x2="686" y2="331.5" /><line x1="683" y1="364.5" x2="686" y2="364.5" /><line x1="683" y1="397.5" x2="686" y2="397.5" /><line x1="683" y1="430.5" x2="686" y2="430.5" /><line x1="683" y1="463.5" x2="686" y2="463.5" /><line x1="683" y1="496.5" x2="686" y2="496.5" /><line x1="683" y1="529.5" x2="686" y2="529.5" /></g>
<g fill="#000" color="#000" font-size="10" stroke="currentColor" stroke-width="0.2">
<text x="687.5" y="37" textLength="34.2" lengthAdjust="spacing">1.12270</text>
<text x="687.5" y="70" textLength="34.2" lengthAdjust="spacing">1.11975</text>
<text x="687.5" y="103" textLength="34.2" lengthAdjust="spacing">1.11675</text>
<text x="687.5" y="136" textLength="34.2" lengthAdjust="spacing">1.11375</text>
<text x="687.5" y="169" textLength="34.2" lengthAdjust="spacing">1.11075</text>
<text x="687.5" y="202" textLength="34.2" lengthAdjust="spacing">1.10780</text>
<text x="687.5" y="235" textLength="34.2" lengthAdjust="spacing">1.10480</text>
<text x="687.5" y="268" textLength="34.2" lengthAdjust="spacing">1.10180</text>
<text x="687.5" y="301" textLength="34.2" lengthAdjust="spacing">1.09880</text>
<text x="687.5" y="367" textLength="34.2" lengthAdjust="spacing">1.09285</text>
<text x="687.5" y="433" textLength="34.2" lengthAdjust="spacing">1.08685</text>
<text x="687.5" y="466" textLength="34.2" lengthAdjust="spacing">1.08390</text>
<text x="687.5" y="532" textLength="34.2" lengthAdjust="spacing">1.07790</text>
</g>
<rect x="684" y="306" width="41" height="11" fill="#0000ff"/>
<text x="687.5" y="315" fill="#fff" color="#fff" font-size="10" stroke="currentColor" stroke-width="0.2" textLength="34.2" lengthAdjust="spacing">1.09760</text>
<rect x="684" y="325" width="41" height="11" fill="#000000"/>
<text x="687.5" y="334" fill="#fff" color="#fff" font-size="10" stroke="currentColor" stroke-width="0.2" textLength="34.2" lengthAdjust="spacing">1.09589</text>
<rect x="684" y="389" width="41" height="11" fill="#0000ff"/>
<text x="687.5" y="398" fill="#fff" color="#fff" font-size="10" stroke="currentColor" stroke-width="0.2" textLength="34.2" lengthAdjust="spacing">1.09005</text>
<rect x="684" y="445" width="41" height="11" fill="#0000ff"/>
<text x="687.5" y="454" fill="#fff" color="#fff" font-size="10" stroke="currentColor" stroke-width="0.2" textLength="34.2" lengthAdjust="spacing">1.08503</text>
<rect x="684" y="492" width="41" height="11" fill="#0000ff"/>
<text x="687.5" y="501" fill="#fff" color="#fff" font-size="10" stroke="currentColor" stroke-width="0.2" textLength="34.2" lengthAdjust="spacing">1.08075</text>
<g fill="#000" color="#000" font-size="10" stroke="currentColor" stroke-width="0.2">
<text x="685.6" y="545" textLength="15.8" lengthAdjust="spacing">100</text>
<text x="685.6" y="572.5" textLength="10.4" lengthAdjust="spacing">70</text>
<text x="685.6" y="594.5" textLength="10.4" lengthAdjust="spacing">50</text>
<text x="685.6" y="617" textLength="10.4" lengthAdjust="spacing">30</text>
<text x="685.6" y="644.5" textLength="5.6" lengthAdjust="spacing">0</text>
<text x="685.6" y="661" textLength="15.8" lengthAdjust="spacing">100</text>
<text x="685.6" y="674" textLength="10.4" lengthAdjust="spacing">80</text>
<text x="685.6" y="703" textLength="10.4" lengthAdjust="spacing">50</text>
<text x="685.6" y="732.5" textLength="10.4" lengthAdjust="spacing">20</text>
<text x="685.6" y="746" textLength="5.6" lengthAdjust="spacing">0</text>
</g>
<g stroke="#000"><line x1="683" y1="534.5" x2="685" y2="534.5" /><line x1="683" y1="569.5" x2="685" y2="569.5" /><line x1="683" y1="591.5" x2="685" y2="591.5" /><line x1="683" y1="614.5" x2="685" y2="614.5" /><line x1="683" y1="647.5" x2="685" y2="647.5" /><line x1="683" y1="650.5" x2="685" y2="650.5" /><line x1="683" y1="671.5" x2="685" y2="671.5" /><line x1="683" y1="700.5" x2="685" y2="700.5" /><line x1="683" y1="729.5" x2="685" y2="729.5" /><line x1="683" y1="748.5" x2="685" y2="748.5" /></g>
<rect x="0" y="750" width="725" height="17" fill="#fff"/>
<line x1="2" y1="749.5" x2="683" y2="749.5" stroke="#000"/>
<g fill="#000" color="#000" font-size="10" stroke="currentColor" stroke-width="0.2" font-size="10">
<line x1="3.5" y1="750" x2="3.5" y2="753" stroke="#000" stroke-width="1"/>
<text x="2" y="762" textLength="42.9" lengthAdjust="spacing">9 Jul 2015</text>
<line x1="67.5" y1="750" x2="67.5" y2="753" stroke="#000" stroke-width="1"/>
<text x="65.6" y="762" textLength="50.6" lengthAdjust="spacing">13 Jul 20:00</text>
<line x1="131.5" y1="750" x2="131.5" y2="753" stroke="#000" stroke-width="1"/>
<text x="129.6" y="762" textLength="50.6" lengthAdjust="spacing">16 Jul 12:00</text>
<line x1="195.5" y1="750" x2="195.5" y2="753" stroke="#000" stroke-width="1"/>
<text x="193.6" y="762" textLength="50.6" lengthAdjust="spacing">21 Jul 04:00</text>
<line x1="259.5" y1="750" x2="259.5" y2="753" stroke="#000" stroke-width="1"/>
<text x="257.6" y="762" textLength="50.6" lengthAdjust="spacing">23 Jul 20:00</text>
<line x1="323.5" y1="750" x2="323.5" y2="753" stroke="#000" stroke-width="1"/>
<text x="321.6" y="762" textLength="50.6" lengthAdjust="spacing">28 Jul 12:00</text>
<line x1="387.5" y1="750" x2="387.5" y2="753" stroke="#000" stroke-width="1"/>
<text x="385.6" y="762" textLength="50.6" lengthAdjust="spacing">31 Jul 04:00</text>
<line x1="451.5" y1="750" x2="451.5" y2="753" stroke="#000" stroke-width="1"/>
<text x="450" y="762" textLength="51.2" lengthAdjust="spacing">4 Aug 20:00</text>
<line x1="515.5" y1="750" x2="515.5" y2="753" stroke="#000" stroke-width="1"/>
<text x="514" y="762" textLength="51.2" lengthAdjust="spacing">7 Aug 12:00</text>
</g>
<polygon points="6,9 13,9 9.5,13" fill="#000" shape-rendering="auto"/>
<g fill="#000" color="#000" font-size="10" stroke="currentColor" stroke-width="0.2">
<text x="18" y="14" font-size="10" textLength="201.4" lengthAdjust="spacing" xml:space="preserve">EURUSD,H4  1.09720 1.09723 1.09569 1.09589</text>
<text x="7" y="547" font-size="10" textLength="67.8" lengthAdjust="spacing">RSI(14) 54.5971</text>
<text x="7" y="663.5" font-size="10" textLength="121.8" lengthAdjust="spacing">Stoch(5,3,3) 86.8960 86.7686</text>
</g>
<polyline points="2.9,675.1 7.7,684.7 11.6,696.3 15.4,715.6 19.3,729.2 23.2,729.2 27.0,713.7 30.9,694.4 34.7,677.0 38.6,669.3 41.5,669.3 45.4,677.0 50.2,690.5 55.0,706.0 59.8,723.4 65.6,736.9 71.4,741.7 75.3,741.7 79.2,731.1 83.0,715.6 86.9,702.1 90.7,695.4 94.6,702.1 98.5,711.8 104.2,719.5 110.0,723.4 115.8,729.2 121.6,734.9 127.4,737.8 133.2,738.8 137.7,738.8 143.5,733.0 149.3,721.4 155.1,711.8 159.0,711.8 163.8,725.3 168.6,736.9 173.4,739.2 178.3,727.2 186.0,707.9 190.8,707.9 195.6,718.5 199.5,718.5 205.3,700.2 209.2,688.6 213.0,673.2 215.9,665.4 222.7,667.4 226.5,675.1 230.4,686.7 235.2,701.2 239.1,704.1 243.9,690.5 247.8,680.9 251.6,674.1 255.5,674.1 259.3,679.0 263.2,680.9 265.0,683.8 271.8,696.3 275.6,709.8 279.5,719.5 283.3,713.7 287.2,694.4 292.0,673.2 294.9,668.3 299.7,668.3 305.5,671.2 311.3,673.2 316.2,680.9 320.0,692.5 322.9,704.1 326.8,717.6 330.6,724.3 334.5,711.8 338.4,700.2 342.2,691.5 346.1,691.5 351.9,698.3 355.7,709.8 360.6,725.3 365.4,734.0 370.2,734.9 376.0,731.1 380.8,726.3 385.7,713.7 390.5,700.2 395.3,690.5 400.1,687.6 402.9,687.6 407.7,702.1 415.4,721.4 422.2,729.2 426.1,730.1 430.9,728.2 434.7,731.1 438.6,732.0 442.5,719.5 447.3,704.1 450.2,701.2 454.1,711.8 457.9,727.2 462.7,739.8 467.6,736.9 472.4,727.2 477.2,711.8 483.0,694.4 487.8,688.6 490.0,689.7 494.4,699.6 498.3,702.9 502.1,693.0 507.7,681.9 511.5,678.1 516.5,690.8 522.0,700.2 523.7,700.2 526.4,689.7 530.8,676.4 535.3,664.3" stroke="#ff0000" fill="none" stroke-width="2" stroke-linejoin="round" shape-rendering="crispEdges"/>
<defs><mask id="wm" maskUnits="userSpaceOnUse" x="0" y="690" width="410" height="77"><rect x="0" y="690" width="410" height="77" fill="#fff"/><g fill="#000" shape-rendering="auto"><text x="23.5" y="744" font-size="37" textLength="9" lengthAdjust="spacingAndGlyphs">[</text><text x="52.4" y="744" font-size="39" textLength="253" lengthAdjust="spacingAndGlyphs">www.instaforex</text><text x="306.5" y="743.6" font-size="29" textLength="53.3" lengthAdjust="spacingAndGlyphs">.com</text><text x="367.5" y="743" font-size="23.5" textLength="6" lengthAdjust="spacingAndGlyphs">]</text></g></mask></defs>
<rect x="3" y="698" width="394" height="66" fill="rgb(205,45,55)" fill-opacity="0.42" mask="url(#wm)"/>
<g fill="#fff" fill-opacity="0.6" shape-rendering="auto"><text x="23.5" y="744" font-size="37" textLength="9" lengthAdjust="spacingAndGlyphs">[</text><text x="52.4" y="744" font-size="39" textLength="253" lengthAdjust="spacingAndGlyphs">www.instaforex</text><text x="306.5" y="743.6" font-size="29" textLength="53.3" lengthAdjust="spacingAndGlyphs">.com</text><text x="367.5" y="743" font-size="23.5" textLength="6" lengthAdjust="spacingAndGlyphs">]</text></g>
</svg></body></html>
